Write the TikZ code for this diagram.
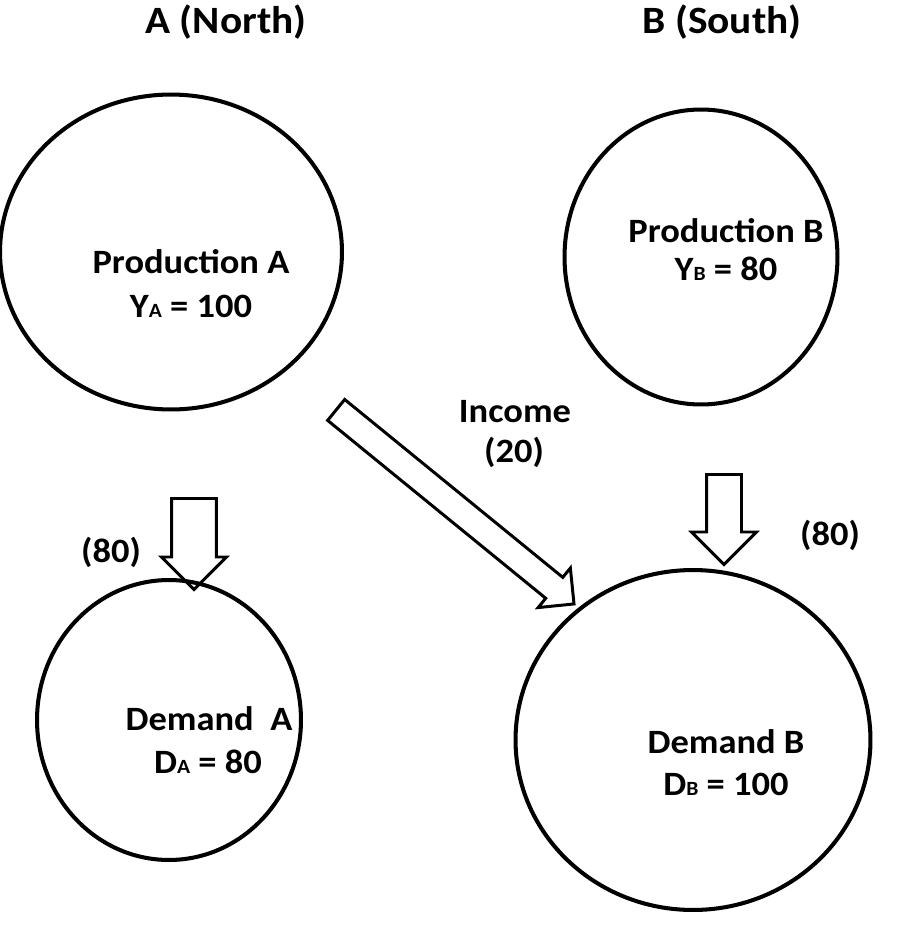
\documentclass[tikz,border=0pt]{standalone}
\usepackage{fontspec}
\setmainfont{Carlito}[FakeStretch=1.07]
\usepackage{tikz}
\usetikzlibrary{shapes.geometric,shapes.arrows}
\newcommand{\sub}[1]{{\fontsize{11.5}{12}\selectfont #1}}
\tikzset{
    circle-box/.style = {draw=black, ellipse, line width=2.3pt, inner sep=0pt},
    box-text/.style = {anchor=base, inner sep=0pt, font=\fontsize{19.4}{24}\selectfont\bfseries},
    side-title/.style = {anchor=base, inner sep=0pt, font=\fontsize{22}{27}\selectfont\bfseries},
    flow-arrow/.style = {draw=black, single arrow, line width=1.7pt, inner xsep=0pt, anchor=tail},
}
\begin{document}
\begin{tikzpicture}[x=0.02cm, y=-0.02cm]
\useasboundingbox (0,0) rectangle (900,927);
\node[side-title] (north) at (226,33) {A (North)};
\node[side-title] (south) at (722,33) {B (South)};

\node[circle-box, minimum width=6.84cm, minimum height=6.3cm] (prodA) at (171,252) {};
\node[circle-box, minimum width=5.46cm, minimum height=5.9cm] (prodB) at (701,257) {};
\node[circle-box, minimum width=5.28cm, minimum height=5.6cm] (demA) at (169,720) {};
\node[circle-box, minimum width=7.1cm, minimum height=6.8cm] (demB) at (693,740) {};

\node[box-text] (prodAname) at (191,273) {Production A};
\node[box-text] (prodAval) at (191,317) {Y\sub{A} = 100};
\node[box-text] (prodBname) at (726,242) {Production B};
\node[box-text] (prodBval) at (726,280) {Y\sub{B} = 80};
\node[box-text] (demAname) at (209,730) {Demand\ \ A};
\node[box-text] (demAval) at (208,773) {D\sub{A} = 80};
\node[box-text] (demBname) at (726,753) {Demand B};
\node[box-text] (demBval) at (726,795) {D\sub{B} = 100};

\node[flow-arrow, inner ysep=0.42cm, single arrow head extend=0.2cm, minimum height=1.82cm, rotate=-90] (arrA) at (194,497) {};
\node[flow-arrow, inner ysep=0.32cm, single arrow head extend=0.3cm, minimum height=1.8cm, rotate=-90] (arrB) at (724,473) {};
\node[flow-arrow, inner ysep=0.24cm, single arrow head extend=0.24cm, minimum height=6.14cm, rotate=-39.2] (arrAB) at (335,409) {};

\node[box-text] (flowA) at (111,562) {(80)};
\node[box-text] (flowB) at (830,545) {(80)};
\node[box-text] (incomeword) at (515,422) {Income};
\node[box-text] (incomeval) at (514,462) {(20)};
\end{tikzpicture}
\end{document}
